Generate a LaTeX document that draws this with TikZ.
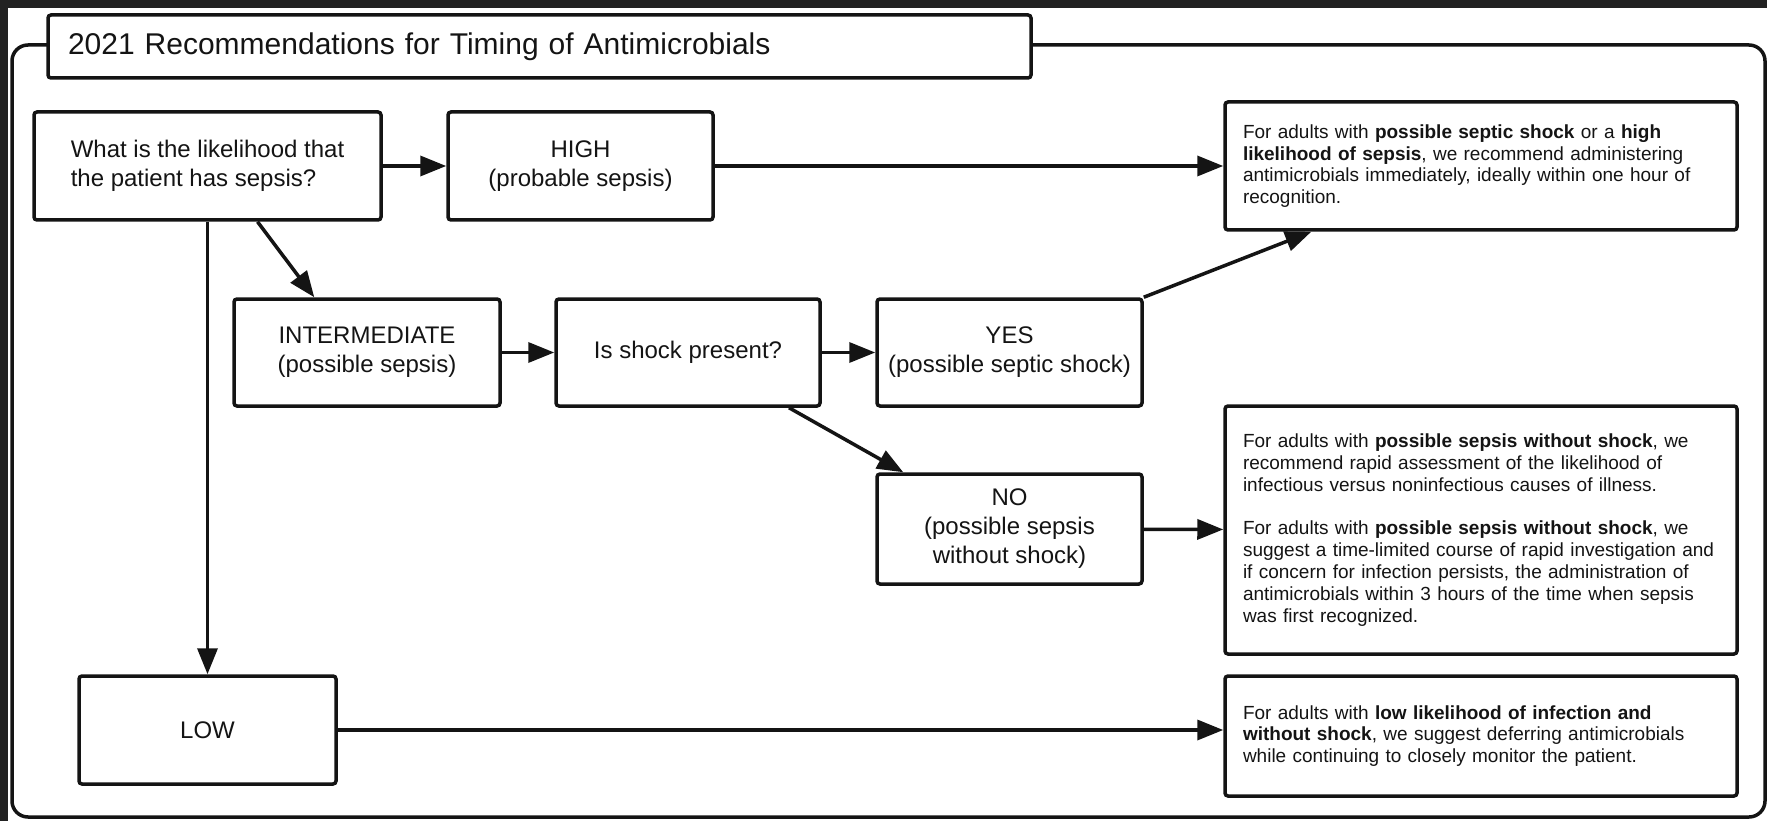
\documentclass[tikz,border=0pt]{standalone}
\usepackage{fontspec}
\setmainfont{Liberation Sans}
\usetikzlibrary{arrows.meta,calc}
\definecolor{darkbg}{HTML}{222222}
\definecolor{ink}{HTML}{141414}
\tikzset{
  box/.style={draw=ink, line width=3.5pt, rounded corners=3pt, fill=white, inner sep=0pt,
    font=\fontsize{24}{29}\selectfont, align=center, text=ink},
  recbox/.style={box, inner xsep=18pt, text width=476pt, align=left,
    font=\fontsize{19}{21.8}\selectfont},
  titlebox/.style={box, inner xsep=20pt, text width=943pt, align=left,
    font=\fontsize{30}{36}\selectfont},
  arr/.style={draw=ink, line width=3.5pt, -{Triangle[length=26pt,width=20pt]}},
  frame/.style={draw=ink, line width=3.5pt, rounded corners=16pt}
}
\begin{document}
\begin{tikzpicture}[x=1pt,y=-1pt]
\useasboundingbox (0,0) rectangle (1767,821);
\fill[darkbg] (0,0) rectangle (1767,821);
\fill[white] (8,8) rectangle (1767,821);
\draw[frame] (12,45) rectangle (1765,817);

\node[titlebox, minimum height=63pt] (title) at (539.5,46.5) {2021 Recommendations for Timing of Antimicrobials};

\node[box, align=left, minimum width=347pt, minimum height=108pt] (q) at (207.5,166)
  {What is the likelihood that\\the patient has sepsis?};
\node[box, minimum width=265pt, minimum height=108pt] (high) at (580.5,166)
  {HIGH\\(probable sepsis)};
\node[recbox, minimum height=128pt] (r1) at (1481,166)
  {For adults with \textbf{possible septic shock} or a \textbf{high}\\
   \textbf{likelihood of sepsis}, we recommend administering\\
   antimicrobials immediately, ideally within one hour of\\
   recognition.};
\node[box, minimum width=266pt, minimum height=107pt] (inter) at (367,352.5)
  {INTERMEDIATE\\(possible sepsis)};
\node[box, minimum width=264pt, minimum height=107pt] (shock) at (688,352.5)
  {Is shock present?};
\node[box, minimum width=265pt, minimum height=107pt] (yes) at (1009.5,352.5)
  {YES\\(possible septic shock)};
\node[box, minimum width=265pt, minimum height=110pt] (no) at (1009.5,529)
  {NO\\(possible sepsis\\without shock)};
\node[recbox, minimum height=248pt] (r2) at (1481,530)
  {For adults with \textbf{possible sepsis without shock}, we\\
   recommend rapid assessment of the likelihood of\\
   infectious versus noninfectious causes of illness.\\[21.8pt]
   For adults with \textbf{possible sepsis without shock}, we\\
   suggest a time-limited course of rapid investigation and\\
   if concern for infection persists, the administration of\\
   antimicrobials within 3 hours of the time when sepsis\\
   was first recognized.};
\node[box, minimum width=257pt, minimum height=108pt] (low) at (207.5,730)
  {LOW};
\node[recbox, minimum height=120pt] (r3) at (1481,736)
  {For adults with \textbf{low likelihood of infection and}\\
   \textbf{without shock}, we suggest deferring antimicrobials\\
   while continuing to closely monitor the patient.};

\draw[arr] (q) -- (high);
\draw[arr] (high) -- (r1);
\draw[arr] ([xshift=50pt]q.south) -- ([xshift=82pt]inter.north west);
\draw[arr] (q) -- (low);
\draw[arr] (inter) -- (shock);
\draw[arr] (shock) -- (yes);
\draw[arr] (yes.north east) -- ([xshift=88pt]r1.south west);
\draw[arr] ([xshift=101pt]shock.south) -- ([xshift=28pt]no.north west);
\draw[arr] (no) -- (r2);
\draw[arr] (low.east) -- (low.east -| r3.west);
\end{tikzpicture}
\end{document}
